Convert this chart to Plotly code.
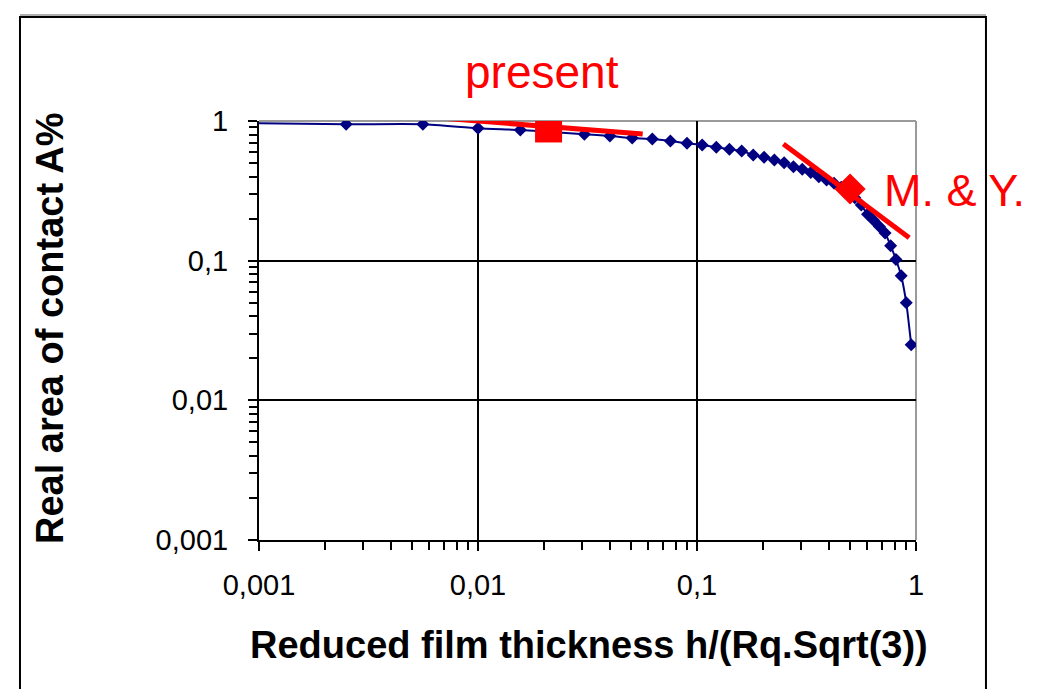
import plotly.graph_objects as go

# Real contact area vs reduced film thickness (log-log)
film_thickness = [0.000625, 0.0025, 0.0056, 0.01, 0.0156, 0.0225, 0.0306, 0.04, 0.0506,
                  0.0625, 0.0756, 0.09, 0.1056, 0.1225, 0.1406, 0.16, 0.1806, 0.2025,
                  0.2256, 0.25, 0.2756, 0.3025, 0.3306, 0.36, 0.3906, 0.4225, 0.4556,
                  0.49, 0.5256, 0.5625, 0.6006, 0.64, 0.6806, 0.7225, 0.7656, 0.81,
                  0.8556, 0.9025, 0.9506]
contact_area = [0.97, 0.947, 0.947, 0.887, 0.862, 0.83, 0.803, 0.781, 0.756,
                0.743, 0.719, 0.692, 0.673, 0.648, 0.627, 0.61, 0.571, 0.55,
                0.526, 0.503, 0.471, 0.451, 0.427, 0.399, 0.378, 0.358, 0.335,
                0.31, 0.282, 0.25, 0.215, 0.195, 0.176, 0.158, 0.128, 0.102,
                0.078, 0.05, 0.025]

# Tangent segments and reference points
present_line_x = [0.0061, 0.0565]
present_line_y = [1.063, 0.807]
present_point = (0.021, 0.877)
my_line_x = [0.248, 0.931]
my_line_y = [0.684, 0.146]
my_point = (0.5, 0.326)

tick_vals = [0.001, 0.01, 0.1, 1]
tick_text = ["0,001", "0,01", "0,1", "1"]

FONT = "Liberation Sans, Arial, sans-serif"
NAVY = "#000080"

fig = go.Figure()
fig.add_trace(go.Scatter(
    x=film_thickness, y=contact_area, mode="lines+markers",
    line=dict(color=NAVY, width=2, shape="spline", smoothing=0.6),
    marker=dict(symbol="diamond", size=10, color=NAVY),
    showlegend=False))
fig.add_trace(go.Scatter(
    x=present_line_x, y=present_line_y, mode="lines",
    line=dict(color="#ff0000", width=5), showlegend=False))
fig.add_trace(go.Scatter(
    x=my_line_x, y=my_line_y, mode="lines",
    line=dict(color="#ff0000", width=5), showlegend=False))
fig.add_trace(go.Scatter(
    x=[present_point[0]], y=[present_point[1]], mode="markers",
    marker=dict(symbol="square", size=27, color="#ff0000"), showlegend=False))
fig.add_trace(go.Scatter(
    x=[my_point[0]], y=[my_point[1]], mode="markers",
    marker=dict(symbol="diamond", size=24, color="#ff0000"), showlegend=False))

axis_common = dict(
    type="log", range=[-3, 0], tickvals=tick_vals, ticktext=tick_text,
    showgrid=True, gridcolor="black", gridwidth=2,
    showline=True, linecolor="black", linewidth=2,
    ticks="outside", ticklen=9, tickwidth=2, tickcolor="black",
    tickfont=dict(family=FONT, size=29, color="black"),
    minor=dict(ticks="outside", ticklen=8, tickwidth=2, tickcolor="black",
               dtick="D1", showgrid=False),
    zeroline=False, fixedrange=True,
)

fig.update_layout(
    width=1038, height=689,
    margin=dict(l=259, r=122, t=121, b=149),
    paper_bgcolor="white", plot_bgcolor="white",
    xaxis=dict(axis_common, ticklabelstandoff=9),
    yaxis=dict(axis_common, ticklabelstandoff=14),
    shapes=[
        # plot-area border (top and right)
        dict(type="line", xref="paper", yref="paper", x0=0, x1=1, y0=1, y1=1,
             line=dict(color="#9a9a9a", width=2), layer="between"),
        dict(type="line", xref="paper", yref="paper", x0=1, x1=1, y0=0, y1=1,
             line=dict(color="#9a9a9a", width=2), layer="between"),
        # chart frame
        dict(type="line", xref="paper", yref="paper", x0=-0.3638, x1=1.1065,
             y0=1.2530, y1=1.2530, line=dict(color="#b0b0b0", width=2)),
        dict(type="rect", xref="paper", yref="paper", x0=-0.3638, x1=1.1065,
             y0=-0.40, y1=1.2482, line=dict(color="black", width=2)),
    ],
    annotations=[
        dict(text="<b>Reduced film thickness h/(Rq.Sqrt(3))</b>", xref="paper", yref="paper",
             x=0.502, y=-0.2506, xanchor="center", yanchor="middle", showarrow=False,
             font=dict(family=FONT, size=38, color="black")),
        dict(text="<b>Real area of contact A%</b>", xref="paper", yref="paper",
             x=-0.318, y=0.506, xanchor="center", yanchor="middle", showarrow=False,
             textangle=-90, font=dict(family=FONT, size=38, color="black")),
        dict(text="present", xref="paper", yref="paper",
             x=0.431, y=1.117, xanchor="center", yanchor="middle", showarrow=False,
             font=dict(family=FONT, size=46, color="#ff0000")),
        dict(text="M. & Y.", xref="paper", yref="paper",
             x=1.059, y=0.835, xanchor="center", yanchor="middle", showarrow=False,
             font=dict(family=FONT, size=45, color="#ff0000")),
    ],
)

fig.write_html("out.html")
